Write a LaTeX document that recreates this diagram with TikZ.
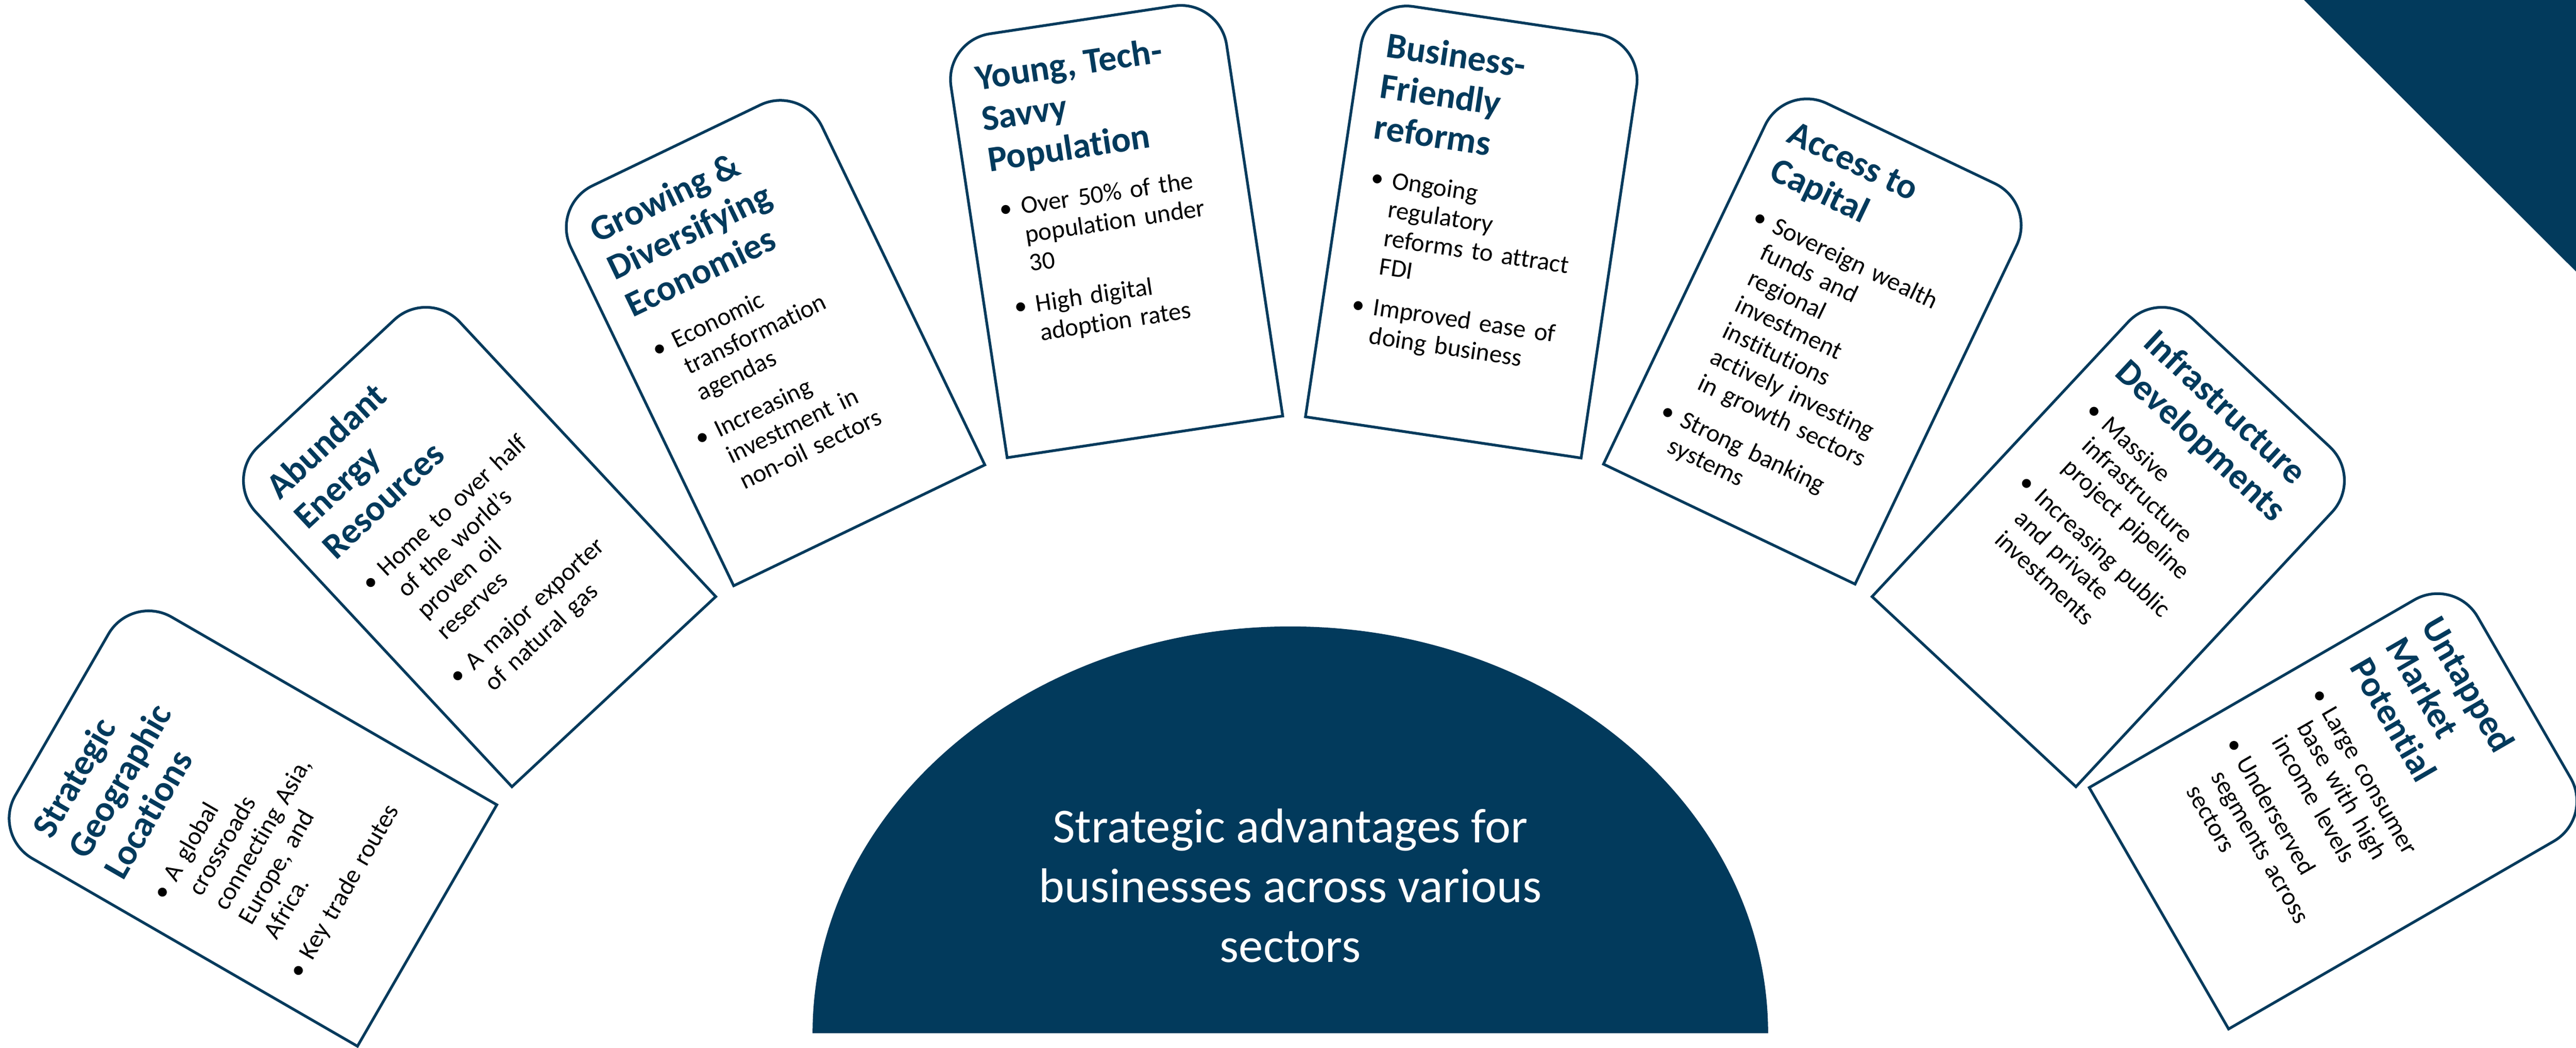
\documentclass[tikz,border=0pt]{standalone}
\usepackage{fontspec}
\setmainfont{Carlito}[Ligatures=NoCommon]
\usetikzlibrary{positioning}

\definecolor{navy}{RGB}{2,58,92}

\newcommand{\drawcard}{\draw[cardedge] (-2.71,-4.1) -- (2.71,-4.1) -- (2.71,3.2) arc[start angle=0, end angle=90, radius=0.9] -- (-1.81,4.1) arc[start angle=90, end angle=180, radius=0.9] -- cycle;}
\newcommand{\cardhead}[1]{{\fontsize{20}{22.8}\selectfont\bfseries\color{navy}#1\par}\vspace{0.35cm}}
\newcommand{\cardpoint}[1]{\hspace*{0.08cm}\makebox[0.42cm][l]{\textbullet}\begin{tabular}[t]{@{}l@{}}#1\end{tabular}\par\vspace{0.2cm}}

\begin{document}
\begin{tikzpicture}[
    cardedge/.style={draw=navy, line width=1.5pt, fill=white},
    cardtext/.style={anchor=north west, inner sep=0pt, text width=5cm, align=left, transform shape, font=\fontsize{14}{16}\selectfont},
    ]
    \useasboundingbox (0,0) rectangle (50.09,20.37);
    \fill[navy] (44.80,20.37) -- (50.09,20.37) -- (50.09,15.09) -- cycle;
    \fill[navy] (15.80,0.28) arc[start angle=180, end angle=0, x radius=9.29, y radius=7.91] -- cycle;
    \node[text=white, align=center, font=\fontsize{27}{33}\selectfont] (hub) at (25.09,3.15) {Strategic advantages for\\businesses across various\\sectors};

    \begin{scope}[shift={(4.755,4.425)}, rotate=60]
        \drawcard
        \node[cardtext] (geo) at (-2.22,3.55) {\cardhead{Strategic\\Geographic\\Locations}
            \cardpoint{A global\\crossroads\\connecting Asia,\\Europe, and\\Africa.}
            \cardpoint{Key trade routes}};
    \end{scope}

    \begin{scope}[shift={(9.14,9.92)}, rotate=43]
        \drawcard
        \node[cardtext] (energy) at (-2.22,3.55) {\cardhead{Abundant\\Energy\\Resources}
            \cardpoint{Home to over half\\of the world's\\proven oil\\reserves}
            \cardpoint{A major exporter\\of natural gas}};
    \end{scope}

    \begin{scope}[shift={(14.93,13.85)}, rotate=25.7]
        \drawcard
        \node[cardtext] (economy) at (-2.22,3.55) {\cardhead{Growing \&\\Diversifying\\Economies}
            \cardpoint{Economic\\transformation\\agendas}
            \cardpoint{Increasing\\investment in\\non-oil sectors}};
    \end{scope}

    \begin{scope}[shift={(21.65,15.93)}, rotate=8.6]
        \drawcard
        \node[cardtext] (youth) at (-2.22,3.55) {\cardhead{Young, Tech-\\Savvy\\Population}
            \cardpoint{Over 50\% of the\\population under\\30}
            \cardpoint{High digital\\adoption rates}};
    \end{scope}

    \begin{scope}[shift={(28.67,15.92)}, rotate=-8.5]
        \drawcard
        \node[cardtext] (reform) at (-2.22,3.55) {\cardhead{Business-\\Friendly\\reforms}
            \cardpoint{Ongoing\\regulatory\\reforms to attract\\FDI}
            \cardpoint{Improved ease of\\doing business}};
    \end{scope}

    \begin{scope}[shift={(35.39,13.88)}, rotate=-25.5]
        \drawcard
        \node[cardtext] (capital) at (-2.22,3.55) {\cardhead{Access to\\Capital}
            \cardpoint{Sovereign wealth\\funds and\\regional\\investment\\institutions\\actively investing\\in growth sectors}
            \cardpoint{Strong banking\\systems}};
    \end{scope}

    \begin{scope}[shift={(41.18,9.92)}, rotate=-43]
        \drawcard
        \node[cardtext] (infra) at (-2.22,3.55) {\cardhead{Infrastructure\\Developments}
            \cardpoint{Massive\\infrastructure\\project pipeline}
            \cardpoint{Increasing public\\and private\\investments}};
    \end{scope}

    \begin{scope}[shift={(45.53,4.76)}, rotate=-60]
        \drawcard
        \node[cardtext] (market) at (-2.22,3.55) {\cardhead{Untapped\\Market\\Potential}
            \cardpoint{Large consumer\\base with high\\income levels}
            \cardpoint{Underserved\\segments across\\sectors}};
    \end{scope}
\end{tikzpicture}
\end{document}
